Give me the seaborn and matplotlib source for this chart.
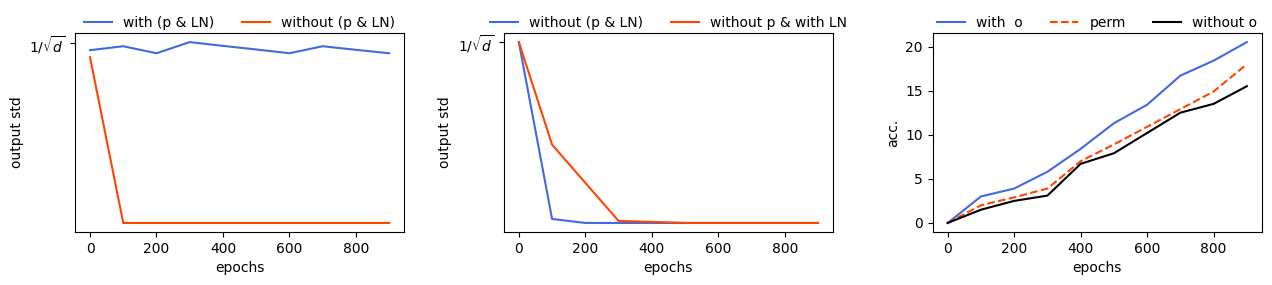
import numpy as np
import pandas as pd
import matplotlib
matplotlib.use('Agg')
import matplotlib.pyplot as plt
import seaborn as sns

# ============================================================================
# DATA
# ============================================================================
epochs = [0, 100, 200, 300, 400, 500, 600, 700, 800, 900]

# panel 1: output std, scaled so that 1/sqrt(d) == 1.0
std_with_p_ln = [0.961, 0.983, 0.944, 1.006, 0.985, 0.965, 0.944, 0.983, 0.963, 0.944]
std_without_p_ln = [0.922, 0.0, 0.0, 0.0, 0.0, 0.0, 0.0, 0.0, 0.0, 0.0]

# panel 2
std_without_p_ln_2 = [1.0, 0.022, 0.0, 0.0, 0.0, 0.0, 0.0, 0.0, 0.0, 0.0]
std_without_p_with_ln = [1.0, 0.433, 0.222, 0.011, 0.006, 0.0, 0.0, 0.0, 0.0, 0.0]

# panel 3: accuracy
acc_with_o = [0.0, 3.0, 3.9, 5.8, 8.4, 11.3, 13.4, 16.7, 18.4, 20.5]
acc_perm = [0.0, 2.0, 2.9, 3.9, 7.0, 8.9, 10.9, 12.9, 14.9, 18.0]
acc_without_o = [0.0, 1.5, 2.5, 3.1, 6.7, 7.9, 10.2, 12.5, 13.5, 15.5]

BLUE = 'royalblue'
RED = 'orangered'

fig, axes = plt.subplots(1, 3, figsize=(12.72, 2.85), dpi=100)
fig.subplots_adjust(left=0.059, right=0.992, top=0.884, bottom=0.186, wspace=0.303)

LEG_ANCHOR = (0.5, 0.955)

# ---------------------------------------------------------------------------
ax = axes[0]
sns.lineplot(x=epochs, y=std_with_p_ln, color=BLUE, label='with (p & LN)', ax=ax)
sns.lineplot(x=epochs, y=std_without_p_ln, color=RED, label='without (p & LN)', ax=ax)
ax.set_yticks([1.0])
ax.set_yticklabels([r'$1/\sqrt{d}$'])
ax.set_xlabel('epochs')
ax.set_ylabel('output std')
ax.legend(loc='lower center', bbox_to_anchor=LEG_ANCHOR, ncol=2, frameon=False)

# ---------------------------------------------------------------------------
ax = axes[1]
sns.lineplot(x=epochs, y=std_without_p_ln_2, color=BLUE, label='without (p & LN)', ax=ax)
sns.lineplot(x=epochs, y=std_without_p_with_ln, color=RED, label='without p & with LN', ax=ax)
ax.set_yticks([1.0])
ax.set_yticklabels([r'$1/\sqrt{d}$'])
ax.set_xlabel('epochs')
ax.set_ylabel('output std')
ax.legend(loc='lower center', bbox_to_anchor=LEG_ANCHOR, ncol=2, frameon=False)

# ---------------------------------------------------------------------------
ax = axes[2]
sns.lineplot(x=epochs, y=acc_with_o, color=BLUE, label='with  o', ax=ax)
sns.lineplot(x=epochs, y=acc_perm, color=RED, linestyle='--', label='perm', ax=ax)
sns.lineplot(x=epochs, y=acc_without_o, color='black', label='without o', ax=ax)
ax.set_xlabel('epochs')
ax.set_ylabel('acc.')
ax.legend(loc='lower center', bbox_to_anchor=LEG_ANCHOR, ncol=3, frameon=False)

for ax in axes:
    ax.set_xticks([0, 200, 400, 600, 800])

plt.savefig('out.png', dpi=100, facecolor='white')
plt.close()
